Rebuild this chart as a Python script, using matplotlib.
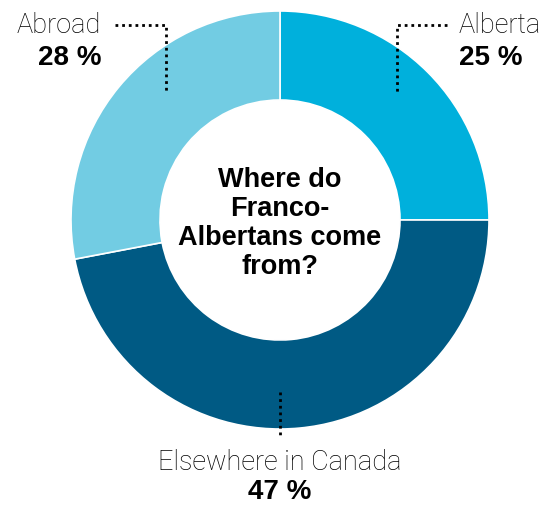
import matplotlib
matplotlib.use("Agg")
import matplotlib.pyplot as plt

# data
labels = ["Alberta", "Elsewhere in Canada", "Abroad"]
shares = [25, 47, 28]
colors = ["#00b0dc", "#005a84", "#72cce3"]
title_lines = ["Where do", "Franco-", "Albertans come", "from?"]

W, H = 558, 505
fig = plt.figure(figsize=(W / 100, H / 100), dpi=100)
ax = fig.add_axes([0, 0, 1, 1])

cx, cy = 280, H - 220
R = 209
ax.pie(shares, colors=colors, startangle=90, counterclock=False,
       radius=R, center=(cx, cy),
       wedgeprops=dict(width=R - 120, edgecolor="white", linewidth=1.2))

ax.set_xlim(0, W)
ax.set_ylim(0, H)
ax.set_aspect("equal")
ax.axis("off")


def y(v):
    return H - v


dot = dict(color="black", lw=2.0, linestyle=(0, (1, 1.4)))
# leader lines
ax.plot([115, 166, 166], [y(25), y(25), y(93)], **dot)
ax.plot([447, 397, 397], [y(25), y(25), y(93)], **dot)
ax.plot([280, 280], [y(392), y(438)], **dot)

light = dict(family="Roboto", fontweight="light", fontsize=19.5, va="baseline",
             color="black")
bold = dict(family="Liberation Sans", fontweight="bold", fontsize=20, va="baseline")

ax.text(101, y(33), labels[2], ha="right", **light)
ax.text(101, y(65), f"{shares[2]} %", ha="right", **bold)
ax.text(459, y(33), labels[0], ha="left", **light)
ax.text(459, y(65), f"{shares[0]} %", ha="left", **bold)
ax.text(cx, y(470), labels[1], ha="center", **light)
ax.text(cx, y(499), f"{shares[1]} %", ha="center", **bold)

for i, line in enumerate(title_lines):
    ax.text(cx, y(187 + 29 * i), line, ha="center", va="baseline",
            family="Liberation Sans", fontweight="bold", fontsize=19.5)

fig.savefig("out.png", dpi=100)
